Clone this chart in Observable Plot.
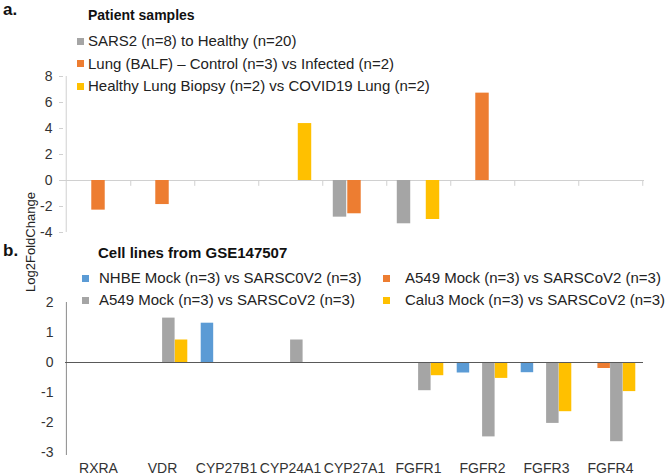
<!DOCTYPE html>
<html>
<head>
<meta charset="utf-8">
<script src="https://cdn.jsdelivr.net/npm/d3@7"></script>
<script src="https://cdn.jsdelivr.net/npm/@observablehq/plot@0.6"></script>
<style>
  html, body { margin: 0; padding: 0; background: #fff; }
  #root { position: relative; width: 671px; height: 475px; font-family: "Liberation Sans", Arial, sans-serif; color: #222; overflow: hidden; }
  .abs { position: absolute; white-space: nowrap; }
  .lbl { font-weight: bold; font-size: 17px; line-height: 20px; color: #111; }
  .ttl { font-weight: bold; font-size: 14px; line-height: 18px; color: #111; }
  .leg { font-size: 15px; line-height: 18px; color: #222; }
  .sw { position: absolute; width: 7px; height: 7px; }
  .panel { position: absolute; left: 0; z-index: 5; }
</style>
</head>
<body>
<div id="root"></div>
<script>
// ---- data ----
const genes = ["RXRA", "VDR", "CYP27B1", "CYP24A1", "CYP27A1", "FGFR1", "FGFR2", "FGFR3", "FGFR4"];

// Panel a: patient samples
const seriesA = ["SARS2 (n=8) to Healthy (n=20)", "Lung (BALF) \u2013 Control (n=3) vs Infected (n=2)", "Healthy Lung Biopsy (n=2) vs COVID19 Lung (n=2)"];
const colorsA = ["#A5A5A5", "#ED7D31", "#FFC000"];
const sars2  = [null, null, null, null, -2.82, -3.33, null, null, null];
const balf   = [-2.28, -1.85, null, null, -2.56, null, 6.72, null, null];
const biopsy = [null, null, null, 4.38, null, -3.0, null, null, null];
const ticksA = [-4, -2, 0, 2, 4, 6, 8];

// Panel b: cell lines
const seriesB = ["NHBE Mock (n=3) vs SARSC0V2 (n=3)", "A549 Mock (n=3) vs SARSCoV2 (n=3)", "A549 Mock (n=3) vs SARSCoV2 (n=3)", "Calu3 Mock (n=3) vs SARSCoV2 (n=3)"];
const colorsB = ["#5B9BD5", "#ED7D31", "#A5A5A5", "#FFC000"];
const nhbe   = [null, null, 1.31, null, null, null, -0.35, -0.34, null];
const a549o  = [null, null, null, null, null, null, null, null, -0.2];
const a549g  = [null, 1.48, null, 0.75, null, -0.94, -2.48, -2.03, -2.64];
const calu3  = [null, 0.75, null, null, null, -0.44, -0.53, -1.64, -0.97];
const ticksB = [-3, -2, -1, 0, 1, 2];

const FONT = "'Liberation Sans', Arial, sans-serif";
const root = document.getElementById("root");
const fmt = d => String(d);

function rows(values) {
  return genes.map((g, i) => ({gene: g, value: values[i]})).filter(d => d.value != null);
}

// ---- text overlays (titles, legends) first, so the charts paint above them ----
function text(cls, str, left, cy, lh) {
  const el = document.createElement("div");
  el.className = "abs " + cls;
  el.textContent = str;
  el.style.left = left + "px";
  el.style.top = (cy - lh / 2) + "px";
  root.appendChild(el);
  return el;
}
function swatch(color, left, cy) {
  const s = document.createElement("div");
  s.className = "sw";
  s.style.background = color;
  s.style.left = left + "px";
  s.style.top = (cy - 3.5) + "px";
  root.appendChild(s);
}

text("lbl", "a.", 3, 10, 20);
text("ttl", "Patient samples", 88, 15, 18);
const rowsAy = [41, 63.5, 86];
seriesA.forEach((s, i) => { swatch(colorsA[i], 77, rowsAy[i]); text("leg", s, 88, rowsAy[i], 18); });

text("lbl", "b.", 3, 251, 20);
const tb = text("ttl", "Cell lines from GSE147507", 98, 253, 18);
tb.style.fontSize = "15px";
const legB = [[82, 99, 278], [383, 405, 278], [82, 99, 300], [383, 405, 300]];
seriesB.forEach((s, i) => { const [sx, tx, y] = legB[i]; swatch(colorsB[i], sx, y); text("leg", s, tx, y, 18); });

// y-axis title
const yl = document.createElement("div");
yl.className = "abs";
yl.textContent = "Log2FoldChange";
yl.style.fontSize = "13px";
yl.style.lineHeight = "14px";
yl.style.color = "#222";
yl.style.left = "31px";
yl.style.top = "242px";
yl.style.transform = "translate(-50%, -50%) rotate(-90deg)";
root.appendChild(yl);

// ---- panel b ----
{
  const W = 671, H = 195, mL = 65, mR = 28, mT = 22, mB = 23;
  const bw = (W - mL - mR) / genes.length;
  const barW = 12.7, step = 12.7;
  const ins = (bw - barW) / 2;
  const vals = [nhbe, a549o, a549g, calu3];
  const marks = [
    Plot.ruleX([genes[0]], {x: d => d, dx: -bw / 2, y1: -3.1, y2: 2, stroke: "#8a8a8a"}),
    ...vals.map((v, k) => Plot.barY(rows(v), {x: "gene", y: "value", fill: colorsB[k], dx: (k - 1.5) * step, insetLeft: ins, insetRight: ins})),
    Plot.ruleY([0], {stroke: "#595959", strokeWidth: 1.2}),
    Plot.axisY(ticksB, {tickFormat: fmt, tickSize: 0, tickPadding: 12, fill: "#333", fontSize: 14, label: null}),
    Plot.axisX({tickSize: 0, tickPadding: 11, fill: "#333", fontSize: 14, label: null})
  ];
  const svg = Plot.plot({
    width: W, height: H, marginLeft: mL, marginRight: mR, marginTop: mT, marginBottom: mB,
    x: {type: "band", domain: genes, padding: 0},
    y: {domain: [-3, 2], label: null},
    style: {fontFamily: FONT, fontSize: "14px", background: "transparent", overflow: "visible"},
    marks
  });
  const d = document.createElement("div");
  d.className = "panel"; d.style.top = "280px"; d.style.width = W + "px"; d.style.height = H + "px";
  d.appendChild(svg); root.appendChild(d);
}

// ---- panel a ----
{
  const W = 671, H = 244, mL = 63, mR = 27, mT = 76, mB = 12;
  const bw = (W - mL - mR) / genes.length;
  const barW = 14, step = 14.5;
  const ins = (bw - barW) / 2;
  const vals = [sars2, balf, biopsy];
  const marks = [
    Plot.ruleY([0], {stroke: "#d0d0d0", strokeWidth: 1}),
    Plot.ruleX(genes, {x: d => d, dx: bw / 2, y1: 0, y2: -0.45, stroke: "#d0d0d0"}),
    Plot.ruleX([genes[0]], {x: d => d, dx: -bw / 2, y1: -4, y2: 8, stroke: "#d0d0d0"}),
    ...vals.map((v, k) => Plot.barY(rows(v), {x: "gene", y: "value", fill: colorsA[k], dx: (k - 1) * step, insetLeft: ins, insetRight: ins})),
    Plot.axisY(ticksA, {tickFormat: fmt, tickSize: 4, tickPadding: 7, stroke: "#d0d0d0", fill: "#333", fontSize: 14, label: null})
  ];
  const svg = Plot.plot({
    width: W, height: H, marginLeft: mL, marginRight: mR, marginTop: mT, marginBottom: mB,
    x: {type: "band", domain: genes, padding: 0, axis: null},
    y: {domain: [-4, 8], label: null},
    style: {fontFamily: FONT, fontSize: "14px", background: "transparent", overflow: "visible"},
    marks
  });
  const d = document.createElement("div");
  d.className = "panel"; d.style.top = "0px"; d.style.width = W + "px"; d.style.height = H + "px";
  d.style.zIndex = "6";
  d.appendChild(svg); root.appendChild(d);
}
</script>
</body>
</html>
